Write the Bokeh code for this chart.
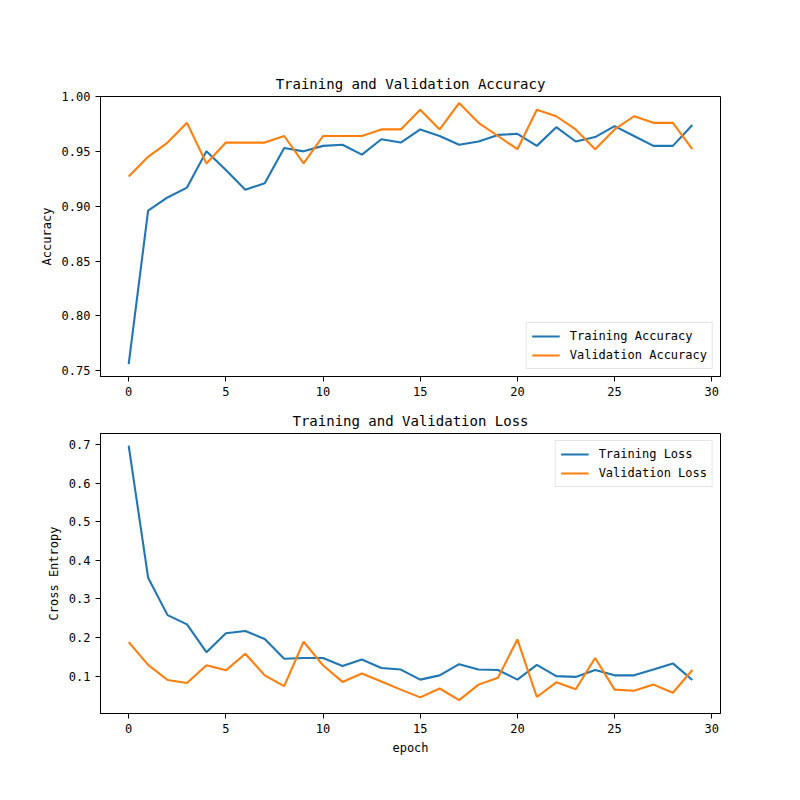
from bokeh.plotting import figure
from bokeh.layouts import column
from bokeh.models import Range1d, FixedTicker, Legend, LegendItem, PrintfTickFormatter
from bokeh.embed import file_html
from bokeh.resources import INLINE

epochs = list(range(30))
train_acc = [0.756, 0.896, 0.908, 0.917, 0.950, 0.933, 0.915, 0.921, 0.953, 0.950,
             0.955, 0.956, 0.947, 0.961, 0.958, 0.970, 0.964, 0.956, 0.959, 0.965,
             0.966, 0.955, 0.972, 0.959, 0.963, 0.973, 0.964, 0.955, 0.955, 0.974]
val_acc = [0.927, 0.945, 0.958, 0.976, 0.939, 0.958, 0.958, 0.958, 0.964, 0.939,
           0.964, 0.964, 0.964, 0.970, 0.970, 0.988, 0.970, 0.994, 0.976, 0.964,
           0.952, 0.988, 0.982, 0.970, 0.952, 0.970, 0.982, 0.976, 0.976, 0.952]
train_loss = [0.697, 0.355, 0.258, 0.234, 0.162, 0.211, 0.217, 0.196, 0.145, 0.147,
              0.147, 0.126, 0.143, 0.121, 0.117, 0.091, 0.102, 0.131, 0.117, 0.116,
              0.091, 0.129, 0.100, 0.098, 0.116, 0.102, 0.102, 0.117, 0.133, 0.090]
val_loss = [0.188, 0.129, 0.090, 0.082, 0.128, 0.115, 0.158, 0.102, 0.074, 0.189,
            0.128, 0.085, 0.107, 0.086, 0.065, 0.045, 0.068, 0.038, 0.078, 0.096,
            0.195, 0.046, 0.084, 0.066, 0.147, 0.065, 0.062, 0.078, 0.057, 0.116]

x_ticks = [0, 5, 10, 15, 20, 25, 30]
acc_ticks = [0.75, 0.80, 0.85, 0.90, 0.95, 1.00]
loss_ticks = [0.1, 0.2, 0.3, 0.4, 0.5, 0.6, 0.7]

FONT = "DejaVu Sans Mono"
BLUE = "#1f77b4"
ORANGE = "#ff7f0e"


def make_fig(title, ylabel, ystart, yend, yticks, yfmt, height, mtop, mbottom, xlabel=None):
    p = figure(width=792, height=height, output_backend="svg", toolbar_location=None,
               x_range=Range1d(-1.45, 30.45), y_range=Range1d(ystart, yend),
               min_border_left=100, min_border_right=72, min_border_top=mtop,
               min_border_bottom=mbottom, title=title)
    p.title.text_font = FONT
    p.title.text_font_size = "14px"
    p.title.text_font_style = "normal"
    p.title.align = "center"
    p.title.text_color = "black"
    p.title.standoff = 9
    p.grid.visible = False
    p.outline_line_color = "black"
    p.outline_line_width = 1
    p.outline_line_alpha = 1
    for ax in (p.xaxis[0], p.yaxis[0]):
        ax.major_tick_in = 0
        ax.major_tick_out = 5
        ax.minor_tick_line_color = None
        ax.major_label_text_font = FONT
        ax.major_label_text_font_size = "12px"
        ax.major_label_text_color = "black"
        ax.axis_label_text_font = FONT
        ax.axis_label_text_font_size = "12px"
        ax.axis_label_text_font_style = "normal"
        ax.axis_label_text_color = "black"
        ax.axis_line_color = "black"
        ax.major_tick_line_color = "black"
    p.xaxis.ticker = FixedTicker(ticks=x_ticks)
    p.yaxis.ticker = FixedTicker(ticks=yticks)
    p.yaxis.formatter = PrintfTickFormatter(format=yfmt)
    p.yaxis.axis_label = ylabel
    if xlabel:
        p.xaxis.axis_label = xlabel
    return p


p1 = make_fig("Training and Validation Accuracy", "Accuracy", 0.7448, 1.0, acc_ticks, "%.2f",
              400, 96, 24)
r1 = p1.line(epochs, train_acc, line_color=BLUE, line_width=2.1)
r2 = p1.line(epochs, val_acc, line_color=ORANGE, line_width=2.1)
leg1 = Legend(items=[LegendItem(label="Training Accuracy", renderers=[r1]),
                     LegendItem(label="Validation Accuracy", renderers=[r2])],
              location="bottom_right")

p2 = make_fig("Training and Validation Loss", "Cross Entropy", 0.0032, 0.7285, loss_ticks, "%.1f",
              363, 33, 50, xlabel="epoch")
r3 = p2.line(epochs, train_loss, line_color=BLUE, line_width=2.1)
r4 = p2.line(epochs, val_loss, line_color=ORANGE, line_width=2.1)
leg2 = Legend(items=[LegendItem(label="Training Loss", renderers=[r3]),
                     LegendItem(label="Validation Loss", renderers=[r4])],
              location="top_right")

for p, leg in ((p1, leg1), (p2, leg2)):
    leg.label_text_font = FONT
    leg.label_text_font_size = "12px"
    leg.label_text_color = "black"
    leg.glyph_width = 28
    leg.glyph_height = 16
    leg.label_height = 16
    leg.spacing = 3
    leg.padding = 5
    leg.margin = 7
    leg.label_standoff = 10
    leg.border_line_color = "#cccccc"
    leg.border_line_width = 1
    leg.background_fill_alpha = 0.8
    p.add_layout(leg, "center")

layout = column(p1, p2, spacing=0)
open("out.html", "w").write(file_html(layout, INLINE))
